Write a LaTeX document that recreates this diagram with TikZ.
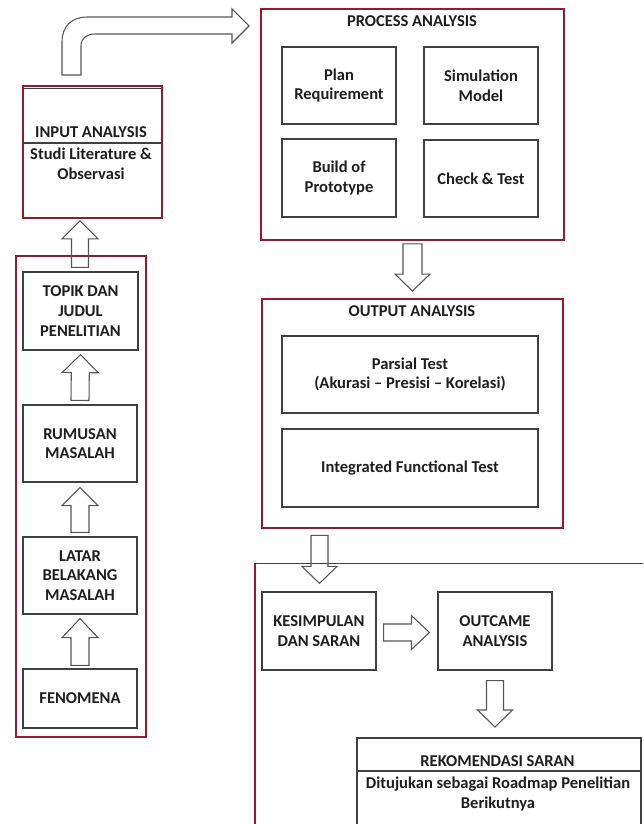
\documentclass[tikz,border=0pt]{standalone}
\usepackage{fontspec}
\setmainfont{Carlito}
\usetikzlibrary{calc}
\definecolor{frm}{RGB}{150,25,45}
\definecolor{bxc}{RGB}{64,64,64}
\definecolor{arw}{RGB}{85,85,85}
\definecolor{txc}{RGB}{30,30,30}
\tikzset{
  txt/.style={font=\fontsize{12.4}{14.8}\selectfont\bfseries, text=txc, align=center, inner sep=0pt},
  gbox/.style={draw=bxc, line width=0.9pt, rectangle, inner sep=0pt, txt},
  rframe/.style={draw=frm, line width=1.4pt, rectangle, inner sep=0pt},
  lframe/.style={draw=frm, line width=1pt, rectangle, inner sep=0pt},
  blk/.style={draw=arw, line width=0.8pt, line join=miter},
  dz/.style args={#1/#2}{minimum width=#1*0.75pt, minimum height=#2*0.75pt}
}
\newcommand{\blockarr}[5]{%
  \coordinate (hb) at ($(#2)!#5*0.75pt!(#1)$);
  \draw[blk] ($(#1)!#3*0.75pt!90:(#2)$) -- ($(hb)!#3*0.75pt!90:(#2)$) -- ($(hb)!#4*0.75pt!90:(#2)$) -- (#2) -- ($(hb)!#4*0.75pt!-90:(#2)$) -- ($(hb)!#3*0.75pt!-90:(#2)$) -- ($(#1)!#3*0.75pt!-90:(#2)$) -- cycle;}
\begin{document}
\begin{tikzpicture}[x=0.75pt,y=-0.75pt]
\useasboundingbox (0,0) rectangle (643,824);
\clip (0,0) rectangle (643,824);

% left column
\node[lframe, dz=130/481] (leftcol) at (81,496.5) {};
\node[gbox, dz=115/78] (topik) at (80.5,311) {TOPIK DAN\\JUDUL\\PENELITIAN};
\node[gbox, dz=114/77] (rumusan) at (80,443.5) {RUMUSAN\\MASALAH};
\node[gbox, dz=114/77] (latar) at (80,575.5) {LATAR\\BELAKANG\\MASALAH};
\node[gbox, dz=114/59] (fenomena) at (80,698.5) {FENOMENA};

% input analysis
\node[rframe, dz=139/132] (input) at (92.5,152) {};
\draw[bxc, line width=0.6pt] (23.5,88.5) -- (161.5,88.5);
\draw[bxc, line width=0.8pt] (input.west |- 0,143) -- (input.east |- 0,143);
\node[txt] (inputT) at (91,132) {INPUT ANALYSIS};
\node[txt] (inputB) at (91,164) {Studi Literature \&\\Observasi};

% process analysis
\node[rframe, dz=303/231] (proc) at (412.5,124.5) {};
\node[txt] (procT) at (412,21) {PROCESS ANALYSIS};
\node[gbox, dz=114/77] (plan) at (339,85.5) {Plan\\Requirement};
\node[gbox, dz=114/77] (sim) at (481,85.5) {Simulation\\Model};
\node[gbox, dz=114/78] (build) at (339,178) {Build of\\Prototype};
\node[gbox, dz=114/77] (check) at (481,178.5) {Check \& Test};

% output analysis
\node[rframe, dz=301/229] (out) at (412.5,413.5) {};
\node[txt] (outT) at (412,311) {OUTPUT ANALYSIS};
\node[gbox, dz=256/77] (parsial) at (410,374.5) {Parsial Test\\(Akurasi -- Presisi -- Korelasi)};
\node[gbox, dz=256/78] (integ) at (410,468) {Integrated Functional Test};

% bottom frame
\draw[frm, line width=1pt] (255,840) -- (255,563.5) -- (660,563.5);
\node[gbox, dz=114/78] (kes) at (319,631) {KESIMPULAN\\DAN SARAN};
\node[gbox, dz=114/78] (outc) at (495,631) {OUTCAME\\ANALYSIS};
\draw[bxc, line width=0.9pt] (357,840) -- (357,738) -- (641,738) -- (641,840);
\draw[bxc, line width=0.8pt] (357,771) -- (641,771);
\coordinate (rektop) at (495,738);
\node[txt] (rekT) at (497.5,761) {REKOMENDASI SARAN};
\node[txt] (rekB) at (498,794) {Ditujukan sebagai Roadmap Penelitian\\Berikutnya};

% block arrows
\coordinate (a1s) at ($(rumusan.north)+(0,-4)$);
\coordinate (a1e) at ($(topik.south)+(0,4)$);
\blockarr{a1s}{a1e}{9}{18}{18}
\coordinate (a2s) at ($(latar.north)+(0,-4)$);
\coordinate (a2e) at ($(rumusan.south)+(0,5)$);
\blockarr{a2s}{a2e}{9}{18}{18}
\coordinate (a3s) at ($(fenomena.north)+(0,-3)$);
\coordinate (a3e) at ($(latar.south)+(0,4)$);
\blockarr{a3s}{a3e}{9}{18}{19}
\coordinate (a4s) at ($(topik.north)+(-0.5,-4)$);
\coordinate (a4e) at ($(input.south)+(-12.5,2)$);
\blockarr{a4s}{a4e}{8.5}{18}{18}
\coordinate (a5s) at ($(proc.south)+(0,3)$);
\coordinate (a5e) at ($(out.north)+(0,-7)$);
\blockarr{a5s}{a5e}{9.5}{17.5}{17}
\coordinate (a6s) at ($(kes.north)+(0.5,-56)$);
\coordinate (a6e) at ($(kes.north)+(0.5,-8)$);
\blockarr{a6s}{a6e}{8.5}{17.5}{17}
\coordinate (a7s) at ($(kes.east)+(7,1.5)$);
\coordinate (a7e) at ($(outc.west)+(-8,1.5)$);
\blockarr{a7s}{a7e}{8.5}{17}{18}
\coordinate (a8s) at ($(outc.south)+(0,10)$);
\coordinate (a8e) at ($(rektop)+(0,-11)$);
\blockarr{a8s}{a8e}{8.5}{17.5}{17}

% bent arrow from input analysis to process analysis
\draw[blk] (62,75) -- (62,42) .. controls (62,26) and (72,17) .. (87,17) -- (232,17) -- (232,9) -- (249,26) -- (232,43) -- (232,34) -- (95,34) .. controls (87,34) and (81,38) .. (81,46) -- (81,75) -- cycle;
\end{tikzpicture}
\end{document}
